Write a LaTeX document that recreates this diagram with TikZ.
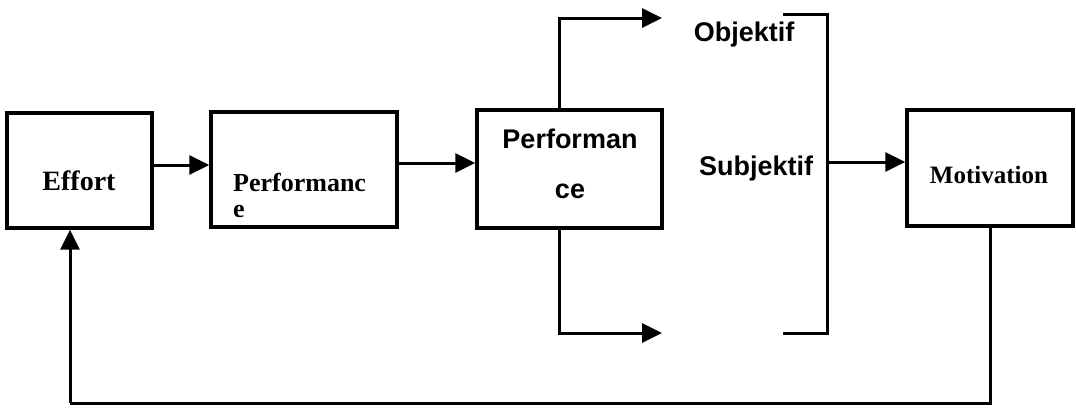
\documentclass[tikz,border=0pt]{standalone}
\usepackage{fontspec}
\setmainfont{Liberation Serif}
\newfontfamily\sansb{Liberation Sans}
\usetikzlibrary{arrows.meta}
\begin{document}
\begin{tikzpicture}[x=1pt,y=-1pt,
  box/.style={draw,line width=3.4pt,rectangle,inner sep=0pt},
  conn/.style={line width=3pt},
  arr/.style={conn,-{Triangle[length=20pt,width=19pt]}},
  serift/.style={font=\fontsize{#1}{28}\selectfont\bfseries,inner sep=0pt},
  sanst/.style={font=\fontsize{27}{28}\selectfont\sansb\bfseries,inner sep=0pt}]
\useasboundingbox (0,0) rectangle (1076,408);
% boxes
\node[box,minimum width=145pt,minimum height=115pt] (effort) at (79.5,170.5) {};
\node[box,minimum width=186pt,minimum height=115pt] (perfa) at (304,169.5) {};
\node[box,minimum width=185pt,minimum height=118pt] (perfb) at (569.5,169) {};
\node[box,minimum width=166pt,minimum height=116pt] (motiv) at (990,168) {};
% texts
\node[serift=28,anchor=base] (teffort) at (79,190) {Effort};
\node[serift=26,anchor=base west] (tperfa1) at (233,191) {Performanc};
\node[serift=26,anchor=base west] (tperfa2) at (233,217) {e};
\node[sanst,anchor=base] (tperfb1) at (570,148) {Performan};
\node[sanst,anchor=base] (tperfb2) at (570,198) {ce};
\node[sanst,anchor=base] (tobj) at (744,41) {Objektif};
\node[sanst,anchor=base] (tsubj) at (756,175) {Subjektif};
\node[serift=25,anchor=base] (tmotiv) at (989,183) {Motivation};
% coordinates
\coordinate (objin) at (662,18);
\coordinate (subin) at (662,333);
\coordinate (brt) at (783,14);
\coordinate (brtr) at (827,14);
\coordinate (brbr) at (827,333);
\coordinate (brb) at (783,333);
\coordinate (brout) at (827,162);
\coordinate (fb) at (990,403);
\coordinate (fbl) at (70,403);
% connectors
\draw[arr] (effort.east |- 0,165) -- (perfa.west |- 0,165);
\draw[arr] (perfa.east |- 0,163) -- (perfb.west |- 0,163);
\draw[arr] (perfb.north -| 559,0) |- (objin);
\draw[arr] (perfb.south -| 559,0) |- (subin);
\draw[conn] (brt) -- (brtr) -- (brbr) -- (brb);
\draw[arr] (brout) -- (motiv.west |- brout);
\draw[conn] (motiv.south -| fb) -- (fb) -- (fbl);
\draw[arr] (fbl) -- (effort.south -| fbl);
\end{tikzpicture}
\end{document}
